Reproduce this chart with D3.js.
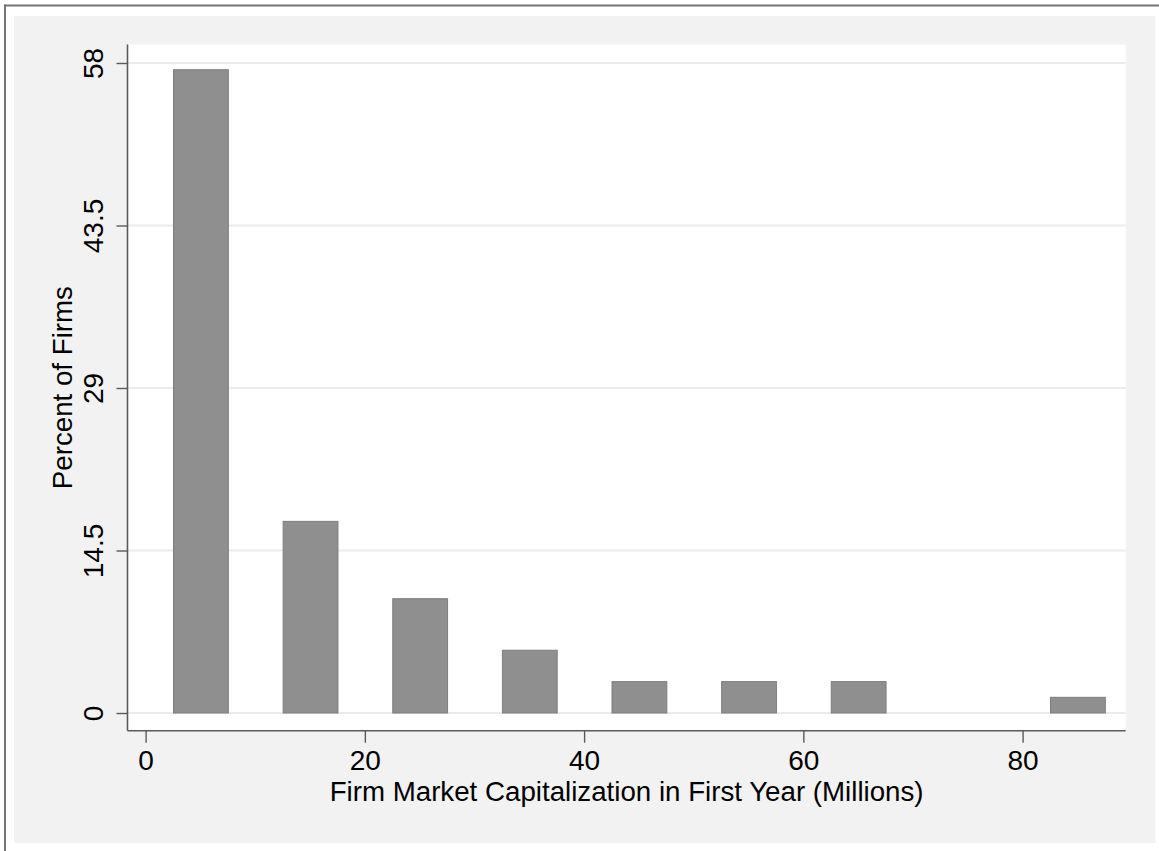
<!DOCTYPE html>
<html>
<head>
<meta charset="utf-8">
<script src="https://cdn.jsdelivr.net/npm/d3@7"></script>
<style>
  html, body { margin: 0; padding: 0; background: #ffffff; }
  svg { display: block; font-family: "Liberation Sans", Arial, Helvetica, sans-serif; }
</style>
</head>
<body>
<svg id="chart" width="1159" height="851"></svg>
<script>
// Data
const binCenters = [5, 15, 25, 35, 45, 55, 65, 75, 85];
const percentFirms = [57.4, 17.1, 10.2, 5.6, 2.8, 2.8, 2.8, 0, 1.4];
const binWidth = 5;
const xTicks = [0, 20, 40, 60, 80];
const yTicks = [0, 14.5, 29, 43.5, 58];
const xTitle = "Firm Market Capitalization in First Year (Millions)";
const yTitle = "Percent of Firms";

const svg = d3.select("#chart");
const FONT = "'Liberation Sans', Arial, Helvetica, sans-serif";
const tickFont = 28;
const titleFont = 27.7;

// Outer frame
svg.append("rect").attr("x", 14).attr("y", 16).attr("width", 1141.5).attr("height", 827)
  .attr("fill", "#f2f2f2");
svg.append("line").attr("x1", 4).attr("x2", 1159).attr("y1", 5.5).attr("y2", 5.5)
  .attr("stroke", "#747474").attr("stroke-width", 2);
svg.append("line").attr("x1", 5).attr("x2", 5).attr("y1", 4.5).attr("y2", 851)
  .attr("stroke", "#747474").attr("stroke-width", 2);

const plot = { left: 127.5, right: 1125.7, top: 44.5, bottom: 730.7 };

// Plot region
svg.append("rect").attr("x", plot.left).attr("y", plot.top)
  .attr("width", plot.right - plot.left).attr("height", plot.bottom - plot.top)
  .attr("fill", "#ffffff");

const x = d3.scaleLinear().domain([0, 80]).range([145.6, 1022.6]);
const y = d3.scaleLinear().domain([0, 58]).range([713, 63]);

// Gridlines
svg.append("g").selectAll("line").data(yTicks).join("line")
  .attr("x1", plot.left).attr("x2", plot.right)
  .attr("y1", d => y(d)).attr("y2", d => y(d))
  .attr("stroke", "#ebebeb").attr("stroke-width", 2);

// Bars
const data = binCenters.map((c, i) => ({ c, v: percentFirms[i] })).filter(d => d.v > 0);
svg.append("g").selectAll("rect").data(data).join("rect")
  .attr("x", d => x(d.c - binWidth / 2) + 0.5)
  .attr("width", d => x(d.c + binWidth / 2) - x(d.c - binWidth / 2))
  .attr("y", d => y(d.v))
  .attr("height", d => y(0) - y(d.v))
  .attr("fill", "#8f8f8f")
  .attr("stroke", "#7d7d7d")
  .attr("stroke-width", 1);

// Axes
const xAxis = d3.axisBottom(x).tickValues(xTicks).tickSize(12).tickSizeOuter(0);
const gx = svg.append("g").attr("transform", `translate(0,${plot.bottom})`).call(xAxis);
gx.select(".domain").remove();
gx.append("line").attr("x1", plot.left).attr("x2", plot.right).attr("y1", 0).attr("y2", 0)
  .attr("stroke", "#5a5a5a").attr("stroke-width", 1.6);
gx.selectAll(".tick line").attr("stroke", "#5a5a5a").attr("stroke-width", 1.4);
gx.selectAll(".tick text").attr("font-size", tickFont).attr("fill", "#000")
  .attr("font-family", FONT)
  .attr("y", 770 - plot.bottom).attr("dy", null);

const yAxis = d3.axisLeft(y).tickValues(yTicks).tickSize(11).tickFormat(d3.format("")).tickSizeOuter(0);
const gy = svg.append("g").attr("transform", `translate(${plot.left},0)`).call(yAxis);
gy.select(".domain").remove();
gy.append("line").attr("x1", 0).attr("x2", 0).attr("y1", plot.top).attr("y2", plot.bottom)
  .attr("stroke", "#5a5a5a").attr("stroke-width", 1.6);
gy.selectAll(".tick line").attr("stroke", "#5a5a5a").attr("stroke-width", 1.4);
gy.selectAll(".tick text")
  .attr("font-size", tickFont).attr("fill", "#000")
  .attr("font-family", FONT)
  .attr("x", null).attr("y", null).attr("dy", null)
  .attr("text-anchor", "middle")
  .attr("transform", `translate(${103 - plot.left},0) rotate(-90)`);

// Titles
svg.append("text").attr("x", (plot.left + plot.right) / 2).attr("y", 801)
  .attr("text-anchor", "middle")
  .attr("font-size", titleFont).attr("fill", "#000").text(xTitle);
svg.append("text")
  .attr("transform", `translate(71.5,${(plot.top + plot.bottom) / 2}) rotate(-90)`)
  .attr("text-anchor", "middle")
  .attr("font-size", titleFont).attr("fill", "#000").text(yTitle);
</script>
</body>
</html>
